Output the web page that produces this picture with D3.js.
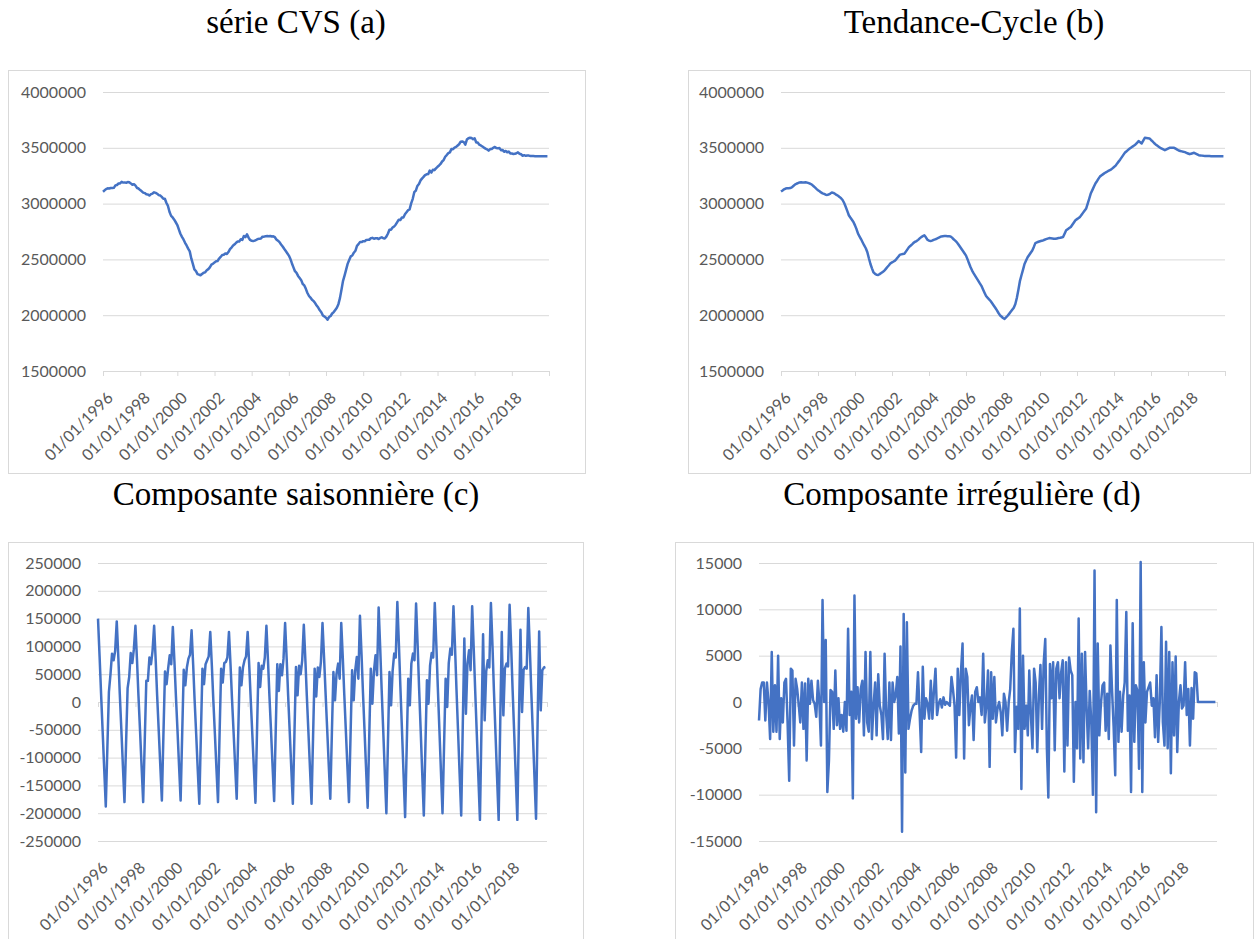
<!DOCTYPE html>
<html>
<head>
<meta charset="utf-8">
<script src="https://cdn.jsdelivr.net/npm/d3@7"></script>
<style>
  body { margin: 0; background: #fff; }
  .lbl { font-family: Lato, "Open Sans", sans-serif; font-size: 16px; fill: #595959; }
  .title { font-family: "Liberation Serif", serif; font-size: 33px; fill: #000; }
</style>
</head>
<body>
<svg id="chart" width="1258" height="939"></svg>
<script>
// monthly series, 01/1996 .. 12/2019 (one row per year)
const cvs = [
  3106000, 3119000, 3130000, 3137000, 3135000, 3140000, 3139000, 3141000, 3163000, 3167000, 3180000, 3181000,
  3195000, 3188000, 3190000, 3187000, 3193000, 3191000, 3181000, 3169000, 3174000, 3161000, 3140000, 3135000,
  3121000, 3110000, 3098000, 3094000, 3084000, 3082000, 3072000, 3085000, 3090000, 3101000, 3096000, 3088000,
  3076000, 3072000, 3060000, 3043000, 3043000, 3005000, 2979000, 2925000, 2890000, 2876000, 2856000, 2833000,
  2808000, 2767000, 2730000, 2702000, 2679000, 2649000, 2625000, 2597000, 2572000, 2509000, 2460000, 2410000,
  2395000, 2368000, 2364000, 2358000, 2369000, 2380000, 2384000, 2403000, 2413000, 2429000, 2453000, 2461000,
  2473000, 2483000, 2485000, 2508000, 2522000, 2539000, 2541000, 2553000, 2549000, 2566000, 2592000, 2606000,
  2624000, 2635000, 2649000, 2661000, 2661000, 2681000, 2674000, 2710000, 2700000, 2724000, 2695000, 2674000,
  2667000, 2664000, 2668000, 2675000, 2683000, 2684000, 2687000, 2704000, 2704000, 2708000, 2709000, 2707000,
  2710000, 2705000, 2707000, 2699000, 2679000, 2668000, 2655000, 2634000, 2616000, 2595000, 2575000, 2555000,
  2534000, 2503000, 2466000, 2429000, 2394000, 2379000, 2352000, 2333000, 2314000, 2279000, 2267000, 2236000,
  2199000, 2172000, 2158000, 2138000, 2128000, 2109000, 2087000, 2068000, 2044000, 2027000, 1998000, 1988000,
  1978000, 1960000, 1983000, 1993000, 2015000, 2028000, 2047000, 2067000, 2099000, 2153000, 2231000, 2308000,
  2357000, 2410000, 2460000, 2495000, 2527000, 2535000, 2560000, 2577000, 2622000, 2637000, 2657000, 2655000,
  2663000, 2663000, 2673000, 2675000, 2676000, 2690000, 2693000, 2685000, 2689000, 2690000, 2682000, 2692000,
  2698000, 2689000, 2687000, 2704000, 2730000, 2765000, 2766000, 2785000, 2795000, 2811000, 2834000, 2856000,
  2853000, 2875000, 2876000, 2905000, 2922000, 2941000, 2948000, 3002000, 3043000, 3102000, 3117000, 3158000,
  3176000, 3208000, 3224000, 3239000, 3255000, 3262000, 3264000, 3296000, 3278000, 3303000, 3300000, 3316000,
  3330000, 3342000, 3355000, 3377000, 3390000, 3420000, 3435000, 3452000, 3459000, 3490000, 3487000, 3502000,
  3508000, 3521000, 3532000, 3555000, 3557000, 3551000, 3529000, 3574000, 3586000, 3590000, 3587000, 3577000,
  3585000, 3547000, 3547000, 3528000, 3521000, 3512000, 3502000, 3493000, 3486000, 3475000, 3489000, 3489000,
  3500000, 3508000, 3498000, 3495000, 3499000, 3479000, 3481000, 3464000, 3472000, 3460000, 3466000, 3450000,
  3449000, 3445000, 3446000, 3451000, 3459000, 3447000, 3442000, 3429000, 3434000, 3428000, 3431000, 3430000,
  3426000, 3426000, 3426000, 3425000, 3425000, 3425000, 3425000, 3425000, 3425000, 3425000, 3425000, 3425000
];

const trendCycle = [
  3108000, 3118000, 3128000, 3135000, 3137000, 3138000, 3139000, 3145000, 3158000, 3170000, 3178000, 3184000,
  3190000, 3192000, 3190000, 3189000, 3191000, 3188000, 3183000, 3178000, 3170000, 3158000, 3145000, 3132000,
  3120000, 3110000, 3100000, 3092000, 3087000, 3080000, 3078000, 3082000, 3090000, 3099000, 3096000, 3088000,
  3078000, 3070000, 3060000, 3048000, 3032000, 3005000, 2972000, 2935000, 2896000, 2875000, 2855000, 2836000,
  2805000, 2770000, 2730000, 2705000, 2680000, 2652000, 2625000, 2600000, 2564000, 2510000, 2459000, 2420000,
  2383000, 2370000, 2362000, 2360000, 2368000, 2378000, 2388000, 2398000, 2415000, 2432000, 2448000, 2465000,
  2473000, 2481000, 2489000, 2505000, 2522000, 2540000, 2545000, 2548000, 2550000, 2570000, 2590000, 2610000,
  2622000, 2635000, 2648000, 2658000, 2664000, 2675000, 2688000, 2700000, 2708000, 2715000, 2698000, 2676000,
  2668000, 2664000, 2668000, 2675000, 2680000, 2685000, 2692000, 2700000, 2706000, 2708000, 2709000, 2709000,
  2708000, 2707000, 2706000, 2695000, 2680000, 2668000, 2655000, 2635000, 2615000, 2595000, 2575000, 2555000,
  2534000, 2500000, 2465000, 2429000, 2400000, 2375000, 2353000, 2330000, 2308000, 2285000, 2263000, 2233000,
  2202000, 2172000, 2157000, 2142000, 2127000, 2107000, 2087000, 2067000, 2045000, 2022000, 2000000, 1988000,
  1975000, 1967000, 1980000, 1995000, 2012000, 2030000, 2048000, 2067000, 2100000, 2157000, 2230000, 2308000,
  2360000, 2410000, 2459000, 2490000, 2519000, 2540000, 2560000, 2580000, 2612000, 2646000, 2652000, 2658000,
  2663000, 2667000, 2670000, 2676000, 2681000, 2686000, 2691000, 2690000, 2688000, 2686000, 2685000, 2688000,
  2691000, 2694000, 2697000, 2700000, 2730000, 2761000, 2771000, 2781000, 2791000, 2811000, 2831000, 2851000,
  2861000, 2871000, 2881000, 2900000, 2919000, 2938000, 2957000, 3002000, 3048000, 3093000, 3123000, 3153000,
  3183000, 3203000, 3224000, 3244000, 3254000, 3264000, 3274000, 3282000, 3290000, 3297000, 3304000, 3316000,
  3328000, 3340000, 3358000, 3376000, 3394000, 3414000, 3434000, 3455000, 3467000, 3479000, 3491000, 3501000,
  3511000, 3520000, 3530000, 3545000, 3560000, 3550000, 3539000, 3565000, 3590000, 3588000, 3586000, 3584000,
  3570000, 3557000, 3543000, 3530000, 3520000, 3510000, 3500000, 3493000, 3486000, 3479000, 3486000, 3493000,
  3500000, 3500000, 3500000, 3500000, 3492000, 3484000, 3476000, 3472000, 3468000, 3464000, 3461000, 3455000,
  3449000, 3443000, 3447000, 3451000, 3455000, 3448000, 3441000, 3434000, 3432000, 3430000, 3428000, 3427000,
  3426000, 3426000, 3426000, 3425000, 3425000, 3425000, 3425000, 3425000, 3425000, 3425000, 3425000, 3425000
];

const seasonal = [
  150000, 82000, 15000, -53000, -120000, -188000, -85000, 18000, 50000, 87000, 75000, 92000,
  145000, 80000, 15000, -50000, -115000, -180000, -78000, 25000, 45000, 88000, 70000, 95000,
  137000, 74000, 11000, -52000, -116000, -180000, -72000, 38000, 38000, 80000, 68000, 92000,
  137000, 74000, 11000, -52000, -114000, -177000, -60000, 55000, 32000, 60000, 84000, 68000,
  135000, 73000, 11000, -51000, -114000, -177000, -60000, 58000, 30000, 62000, 78000, 85000,
  129000, 67000, 4000, -58000, -121000, -183000, -62000, 60000, 32000, 68000, 75000, 82000,
  126000, 65000, 4000, -57000, -119000, -180000, -60000, 60000, 35000, 70000, 72000, 80000,
  126000, 66000, 6000, -54000, -114000, -174000, -55000, 62000, 30000, 62000, 75000, 82000,
  126000, 65000, 4000, -58000, -119000, -181000, -55000, 70000, 27000, 65000, 60000, 80000,
  137000, 74000, 11000, -52000, -115000, -178000, -55000, 68000, 20000, 68000, 48000, 78000,
  142000, 77000, 12000, -53000, -118000, -183000, -62000, 63000, 12000, 65000, 50000, 75000,
  139000, 75000, 11000, -54000, -118000, -183000, -62000, 60000, 10000, 62000, 45000, 72000,
  142000, 79000, 16000, -48000, -111000, -174000, -60000, 54000, 3000, 51000, 69000, 42000,
  142000, 78000, 14000, -52000, -116000, -180000, -62000, 57000, 3000, 57000, 81000, 42000,
  155000, 86000, 17000, -52000, -121000, -190000, -65000, 60000, -3000, 55000, 84000, 48000,
  170000, 96000, 22000, -52000, -126000, -200000, -75000, 54000, -6000, 56000, 87000, 80000,
  180000, 103000, 26000, -51000, -129000, -207000, -85000, 42000, -6000, 69000, 87000, 75000,
  177000, 101000, 25000, -51000, -128000, -204000, -85000, 39000, -3000, 66000, 88000, 80000,
  178000, 102000, 27000, -49000, -124000, -200000, -80000, 42000, -9000, 70000, 96000, 85000,
  172000, 97000, 22000, -54000, -129000, -204000, -45000, 114000, -21000, 69000, 93000, 57000,
  172000, 95000, 18000, -59000, -135000, -212000, -45000, 122000, -33000, 55000, 75000, 62000,
  178000, 100000, 20000, -58000, -135000, -212000, -43000, 126000, -24000, 60000, 69000, 64000,
  175000, 98000, 21000, -57000, -134000, -212000, -40000, 130000, -18000, 58000, 63000, 60000,
  169000, 93000, 17000, -59000, -134000, -210000, -40000, 127000, -15000, 57000, 62000, 63000
];

const irregular = [
  -2000, 1400, 2100, 2100, -2000, 2100, 0, -4000, 5400, -3200, 1800, -3200,
  5000, -4000, 400, -2200, 2100, 2500, -2200, -8500, 3600, 3400, -4700, 2500,
  1400, -400, -2200, 2100, -2900, 2000, -6300, 2500, -200, 2300, 200, -200,
  -1600, 2300, 0, -4700, 11000, 0, 6700, -9700, -6300, 1300, 1100, -2900,
  3400, -2500, 400, -2900, -1400, -3200, 0, -3100, 7900, -1400, 1100, -10400,
  11500, -1800, 1600, -2200, 1400, 2300, -3600, 5400, -2200, -3200, 5400, -4000,
  -400, 2100, -3600, 3000, -400, -1400, -4000, 5200, -1400, -4000, 2100, -4100,
  2100, 0, 700, 2700, -3400, 6000, -14000, 9500, -7600, 8600, -2900, -1800,
  -900, -400, -200, -200, 3200, -1100, -5400, 3800, -1800, 400, -200, -1800,
  2300, -1800, 1100, 3600, -1400, -200, 300, -600, 500, -300, 0, -200,
  -400, 2700, 1400, -400, -6000, 3600, -1400, 3200, 6300, -6100, 3600, 2700,
  -2500, -400, 700, -4100, 1100, 1600, 0, 500, -1400, 5200, -2200, -400,
  3400, -7000, 3200, -1800, 2700, -2200, -700, 0, -1100, -3600, 900, 0,
  -3100, 0, 1400, 5400, 7900, -5400, -500, -2900, 10100, -9400, 5000, -2900,
  -400, -3600, 3400, -1400, -5000, 3600, 2100, -5400, 700, 4000, -2900, 4100,
  6800, -5000, -10300, 4100, 400, 4300, -5200, 3600, 4300, 400, 3200, 4500,
  -7500, 4300, -4700, 4800, 3400, 2900, -8600, 0, -5000, 9000, -6100, 5200,
  -6500, 5400, -400, -5000, 1200, -2300, -10000, 14200, -11900, 6300, -3600, -200,
  1800, 2100, -3100, 900, -4000, 6100, 1400, -2600, -7900, 11000, -4300, 1100,
  -3200, 700, 2100, 9700, -3100, 700, -9700, 8500, -4300, 1800, 1200, -7200,
  15100, -9700, 4300, -2200, 1100, 1600, 2100, -400, 400, -3800, 2900, -4300,
  0, 8100, -2200, -4700, 6500, -5000, 5400, -7700, 4300, -3600, 4900, -5400,
  0, 1800, -700, -400, 4300, -1400, 1400, -4700, 1500, -1800, 3200, 3100,
  0, 0, 0, 0, 0, 0, 0, 0, 0, 0, 0, 0
];

const levelTicks = [1500000, 2000000, 2500000, 3000000, 3500000, 4000000];
const seasonalTicks = [-250000, -200000, -150000, -100000, -50000, 0, 50000, 100000, 150000, 200000, 250000];
const irregularTicks = [-15000, -10000, -5000, 0, 5000, 10000, 15000];

const months = d3.timeMonth.range(new Date(1996, 0, 1), new Date(2020, 0, 1));
const axisEnd = new Date(2020, 0, 1);
const yearTicks = d3.timeYear.every(2).range(new Date(1996, 0, 1), new Date(2020, 0, 2));
const fmtDate = d3.timeFormat("%d/%m/%Y");

const svg = d3.select("#chart");
svg.append("rect").attr("width", 1258).attr("height", 939).attr("fill", "#fff");

const panels = [
  { title: "série CVS (a)", tx: 296, ty: 33, box: [8, 70, 585, 473],
    left: 103, right: 549, top: 92, bottom: 371, ticks: levelTicks, data: cvs, zeroAxis: false },
  { title: "Tendance-Cycle (b)", tx: 974, ty: 33, box: [688, 70, 1250, 473],
    left: 781, right: 1225, top: 92, bottom: 371, ticks: levelTicks, data: trendCycle, zeroAxis: false },
  { title: "Composante saisonnière (c)", tx: 296, ty: 505, box: [8, 542, 583, 960],
    left: 98, right: 547, top: 563, bottom: 841, ticks: seasonalTicks, data: seasonal, zeroAxis: true },
  { title: "Composante irrégulière (d)", tx: 962, ty: 505, box: [675, 542, 1253, 960],
    left: 759, right: 1217, top: 563, bottom: 841, ticks: irregularTicks, data: irregular, zeroAxis: true }
];

function drawPanel(p) {
  const g = svg.append("g");

  g.append("rect")
    .attr("x", p.box[0] + 0.5).attr("y", p.box[1] + 0.5)
    .attr("width", p.box[2] - p.box[0]).attr("height", p.box[3] - p.box[1])
    .attr("fill", "#fff").attr("stroke", "#d9d9d9");

  svg.append("text")
    .attr("class", "title")
    .attr("x", p.tx).attr("y", p.ty)
    .attr("text-anchor", "middle")
    .text(p.title);

  const x = d3.scaleTime().domain([months[0], axisEnd]).range([p.left, p.right]);
  const y = d3.scaleLinear().domain(d3.extent(p.ticks)).range([p.bottom, p.top]);

  // horizontal gridlines + value labels
  const yAxis = g.append("g")
    .attr("transform", `translate(${p.left},0)`)
    .call(d3.axisLeft(y)
      .tickValues(p.ticks)
      .tickSize(-(p.right - p.left))
      .tickPadding(17)
      .tickFormat(d => String(d)));
  yAxis.select(".domain").remove();
  yAxis.selectAll("line").attr("stroke", "#d9d9d9");
  yAxis.selectAll("text").attr("class", "lbl").attr("fill", null).attr("font-size", null).attr("font-family", null);

  // category axis line with tick marks
  const axisY = p.zeroAxis ? y(0) : p.bottom;
  const xAxis = g.append("g")
    .attr("transform", `translate(0,${axisY})`)
    .call(d3.axisBottom(x).tickValues(yearTicks).tickSize(5).tickSizeOuter(0).tickFormat(""));
  xAxis.select(".domain").attr("stroke", "#d9d9d9");
  xAxis.selectAll("line").attr("stroke", "#d9d9d9");

  // rotated date labels under the plot
  g.selectAll(".xl")
    .data(yearTicks.filter(d => d < axisEnd))
    .enter().append("text")
    .attr("class", "lbl")
    .attr("text-anchor", "end")
    .attr("dy", "0.35em")
    .attr("transform", d => `translate(${x(d) + 7},${p.bottom + 24}) rotate(-45)`)
    .text(d => fmtDate(d));

  const line = d3.line()
    .x((d, i) => x(months[i]))
    .y(d => y(d));

  g.append("path")
    .datum(p.data)
    .attr("fill", "none")
    .attr("stroke", "#4472c4")
    .attr("stroke-width", 2.5)
    .attr("stroke-linejoin", "round")
    .attr("d", line);
}

panels.forEach(drawPanel);
</script>
</body>
</html>
